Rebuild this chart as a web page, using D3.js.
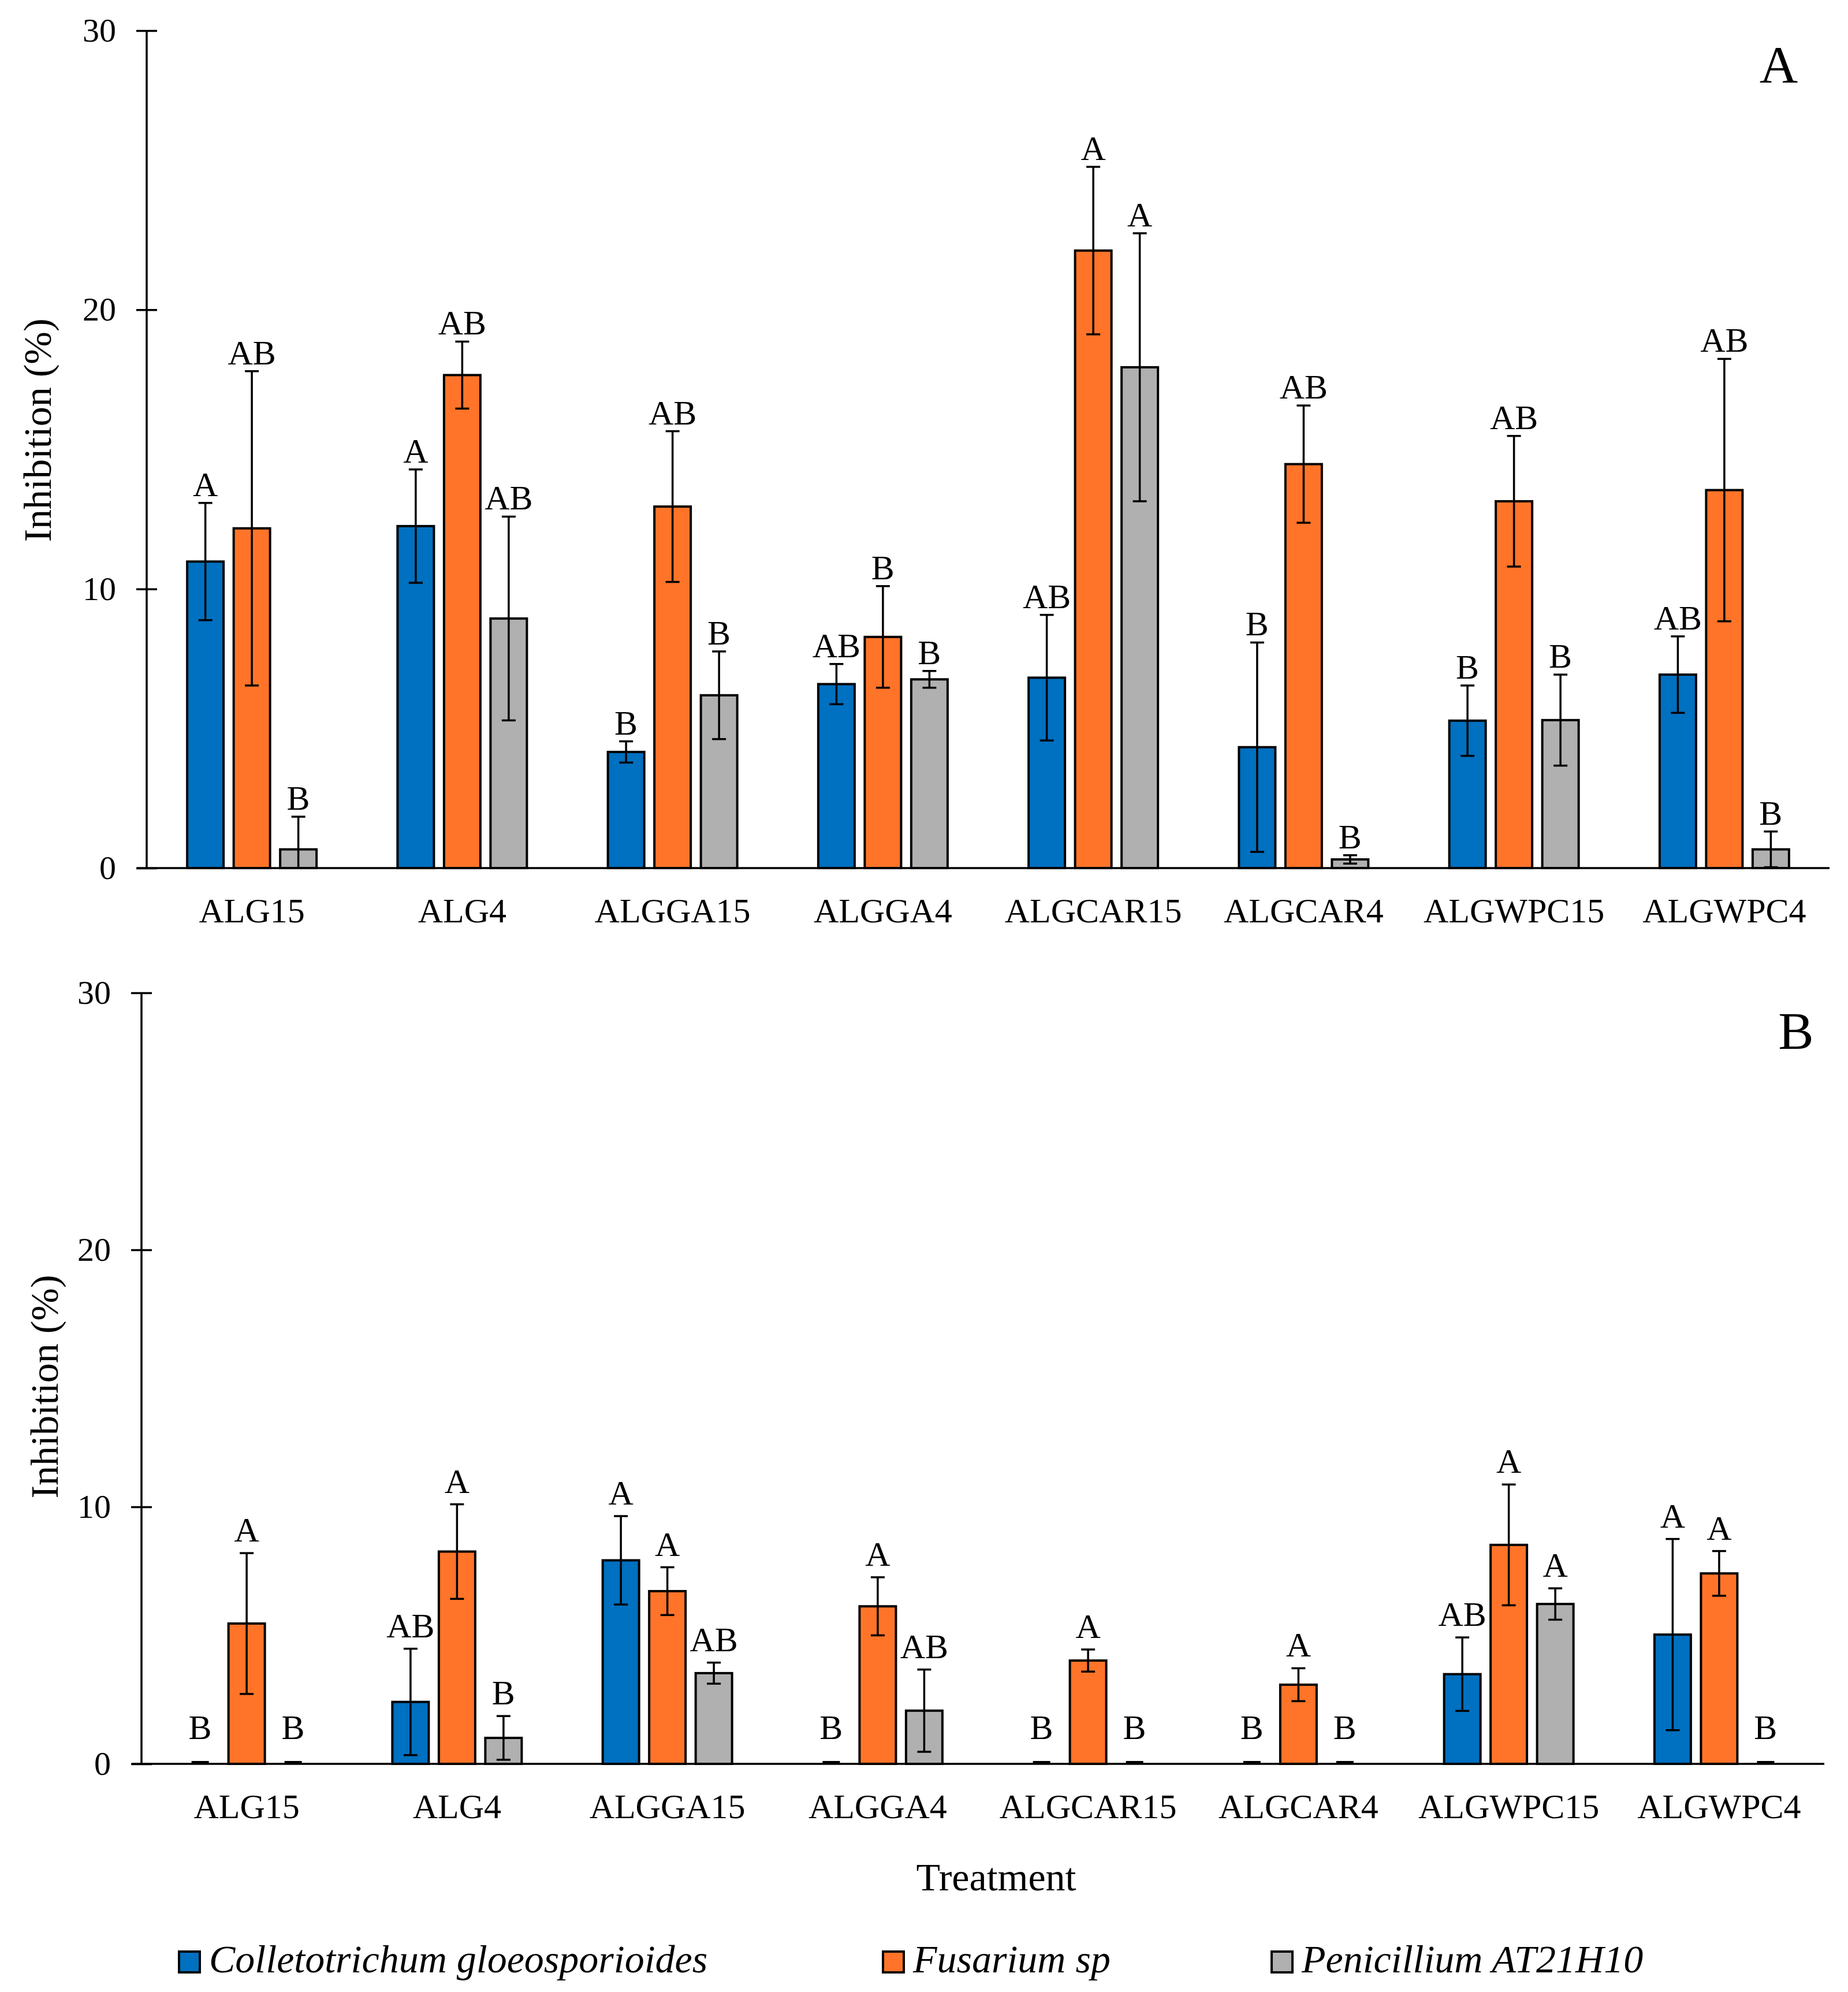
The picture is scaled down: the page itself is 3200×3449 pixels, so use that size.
<!DOCTYPE html>
<html>
<head>
<meta charset="utf-8">
<script src="https://cdn.jsdelivr.net/npm/d3@7"></script>
<style>
  html, body { margin: 0; padding: 0; background: #fff; }
  svg text { font-family: "Liberation Serif", "Times New Roman", serif; fill: #000; }
</style>
</head>
<body>
<svg id="chart" width="3200" height="3449"></svg>
<script>
// ---------- data ----------
const categories = ["ALG15", "ALG4", "ALGGA15", "ALGGA4", "ALGCAR15", "ALGCAR4", "ALGWPC15", "ALGWPC4"];
const seriesNames = ["Colletotrichum gloeosporioides", "Fusarium sp", "Penicillium AT21H10"];
const yTicks = [0, 10, 20, 30];

// Panel A
const colletoA = [10.98, 12.25, 4.16, 6.59, 6.82, 4.33, 5.28, 6.93];
const colletoAErr = [2.10, 2.03, 0.38, 0.72, 2.25, 3.75, 1.26, 1.37];
const fusariumA = [12.17, 17.66, 12.95, 8.28, 22.12, 14.47, 13.14, 13.54];
const fusariumAErr = [5.63, 1.20, 2.70, 1.82, 3.00, 2.10, 2.34, 4.70];
const penicilliumA = [0.67, 8.94, 6.19, 6.76, 17.94, 0.31, 5.30, 0.67];
const penicilliumAErr = [1.17, 3.65, 1.57, 0.30, 4.80, 0.15, 1.63, 0.64];
const colletoALetters = ["A", "A", "B", "AB", "AB", "B", "B", "AB"];
const fusariumALetters = ["AB", "AB", "AB", "B", "A", "AB", "AB", "AB"];
const penicilliumALetters = ["B", "AB", "B", "B", "A", "B", "B", "B"];

// Panel B
const colletoB = [0, 2.41, 7.92, 0, 0, 0, 3.49, 5.03];
const colletoBErr = [0, 2.07, 1.72, 0, 0, 0, 1.43, 3.72];
const fusariumB = [5.46, 8.26, 6.72, 6.13, 4.02, 3.08, 8.52, 7.41];
const fusariumBErr = [2.74, 1.84, 0.93, 1.13, 0.43, 0.64, 2.35, 0.87];
const penicilliumB = [0, 1.01, 3.53, 2.07, 0, 0, 6.22, 0];
const penicilliumBErr = [0, 0.85, 0.41, 1.60, 0, 0, 0.61, 0];
const colletoBLetters = ["B", "AB", "A", "B", "B", "B", "AB", "A"];
const fusariumBLetters = ["A", "A", "A", "A", "A", "A", "A", "A"];
const penicilliumBLetters = ["B", "B", "AB", "AB", "B", "B", "A", "B"];

// ---------- styles ----------
const colors = ["#0070C0", "#FF7429", "#B0B0B0"];

const svg = d3.select("#chart");

function drawPanel(cfg) {
  const g = svg.append("g");
  const x = d3.scaleBand().domain(categories).range([cfg.left, cfg.right]).padding(0);
  const y = d3.scaleLinear().domain([0, 30]).range([cfg.bottom, cfg.top]);
  const step = 80.5, barW = 63;
  const sub = d3.scaleLinear().domain([0, 2]).range([-step, step]);

  const series = cfg.values.map((vals, si) => ({
    si, vals, errs: cfg.errs[si], letters: cfg.letters[si]
  }));

  series.forEach(s => {
    const items = categories.map((c, i) => ({
      c, v: s.vals[i], e: s.errs[i], l: s.letters[i],
      cx: x(c) + x.bandwidth() / 2 + sub(s.si)
    }));
    // bars
    g.selectAll(null).data(items.filter(d => d.v > 0)).enter().append("rect")
      .attr("x", d => d.cx - barW / 2)
      .attr("y", d => y(d.v))
      .attr("width", barW)
      .attr("height", d => y(0) - y(d.v))
      .attr("fill", colors[s.si])
      .attr("stroke", "#000")
      .attr("stroke-width", 4);
    // error bars (nonzero)
    const eb = g.selectAll(null).data(items.filter(d => d.v + d.e > 0)).enter().append("g");
    eb.append("line")
      .attr("x1", d => d.cx).attr("x2", d => d.cx)
      .attr("y1", d => y(d.v + d.e)).attr("y2", d => y(Math.max(0, d.v - d.e)))
      .attr("stroke", "#000").attr("stroke-width", 3.5);
    eb.append("line")
      .attr("x1", d => d.cx - 12).attr("x2", d => d.cx + 12)
      .attr("y1", d => y(d.v + d.e)).attr("y2", d => y(d.v + d.e))
      .attr("stroke", "#000").attr("stroke-width", 3.5);
    eb.append("line")
      .attr("x1", d => d.cx - 12).attr("x2", d => d.cx + 12)
      .attr("y1", d => y(Math.max(0, d.v - d.e))).attr("y2", d => y(Math.max(0, d.v - d.e)))
      .attr("stroke", "#000").attr("stroke-width", 3.5);
    // zero-value marker (collapsed bar + caps)
    g.selectAll(null).data(items.filter(d => d.v + d.e === 0)).enter().append("line")
      .attr("x1", d => d.cx - 15).attr("x2", d => d.cx + 15)
      .attr("y1", y(0) - 2.5).attr("y2", y(0) - 2.5)
      .attr("stroke", "#000").attr("stroke-width", 5);
    // letters
    g.selectAll(null).data(items).enter().append("text")
      .attr("x", d => d.cx)
      .attr("y", d => (d.v + d.e) > 0 ? y(d.v + d.e) - cfg.letterGap : y(0) - cfg.zeroGap)
      .attr("text-anchor", "middle")
      .attr("font-size", 60)
      .text(d => d.l);
  });

  // y axis
  const yAxis = d3.axisLeft(y).tickValues(yTicks).tickSize(18).tickPadding(35);
  const ag = g.append("g").attr("transform", `translate(${cfg.left},0)`).call(yAxis);
  ag.select(".domain").remove();
  ag.selectAll(".tick line").attr("x1", 18).attr("stroke", "#000").attr("stroke-width", 3.5);
  ag.selectAll(".tick text")
    .attr("font-size", 58)
    .attr("font-family", "Liberation Serif, Times New Roman, serif")
    .attr("fill", "#000");
  g.append("line")
    .attr("x1", cfg.left).attr("x2", cfg.left)
    .attr("y1", y(30)).attr("y2", y(0))
    .attr("stroke", "#000").attr("stroke-width", 3.5);

  // x axis
  g.append("line")
    .attr("x1", cfg.left - 17).attr("x2", cfg.right)
    .attr("y1", y(0)).attr("y2", y(0))
    .attr("stroke", "#000").attr("stroke-width", 3.5);
  g.selectAll(null).data(categories).enter().append("text")
    .attr("x", d => x(d) + x.bandwidth() / 2)
    .attr("y", y(0) + 94)
    .attr("text-anchor", "middle")
    .attr("font-size", 60)
    .text(d => d);

  // y label
  g.append("text")
    .attr("transform", `translate(${cfg.ylabX},${cfg.ylabY}) rotate(-90)`)
    .attr("text-anchor", "middle")
    .attr("font-size", 68)
    .text("Inhibition (%)");

  // panel letter
  g.append("text")
    .attr("x", cfg.tagX).attr("y", cfg.tagY)
    .attr("text-anchor", "middle")
    .attr("font-size", 92)
    .text(cfg.tag);
}

drawPanel({
  left: 254, right: 3168, top: 53, bottom: 1503,
  values: [colletoA, fusariumA, penicilliumA],
  errs: [colletoAErr, fusariumAErr, penicilliumAErr],
  letters: [colletoALetters, fusariumALetters, penicilliumALetters],
  letterGap: 12, zeroGap: 43,
  ylabX: 88, ylabY: 745, tag: "A", tagX: 3080, tagY: 143
});

drawPanel({
  left: 245, right: 3159, top: 1719, bottom: 3054,
  values: [colletoB, fusariumB, penicilliumB],
  errs: [colletoBErr, fusariumBErr, penicilliumBErr],
  letters: [colletoBLetters, fusariumBLetters, penicilliumBLetters],
  letterGap: 20, zeroGap: 43,
  ylabX: 100, ylabY: 2401, tag: "B", tagX: 3110, tagY: 1816
});

// x title
svg.append("text")
  .attr("x", 1725).attr("y", 3273)
  .attr("text-anchor", "middle")
  .attr("font-size", 68)
  .text("Treatment");

// legend
const legendX = [310, 1529, 2202];
const lg = svg.selectAll(".leg").data(seriesNames).enter().append("g").attr("class", "leg");
lg.append("rect")
  .attr("x", (d, i) => legendX[i]).attr("y", 3379)
  .attr("width", 36).attr("height", 36)
  .attr("fill", (d, i) => colors[i])
  .attr("stroke", "#000").attr("stroke-width", 4);
lg.append("text")
  .attr("x", (d, i) => legendX[i] + 52).attr("y", 3415)
  .attr("font-size", 68)
  .attr("font-style", "italic")
  .text(d => d);
</script>
</body>
</html>
